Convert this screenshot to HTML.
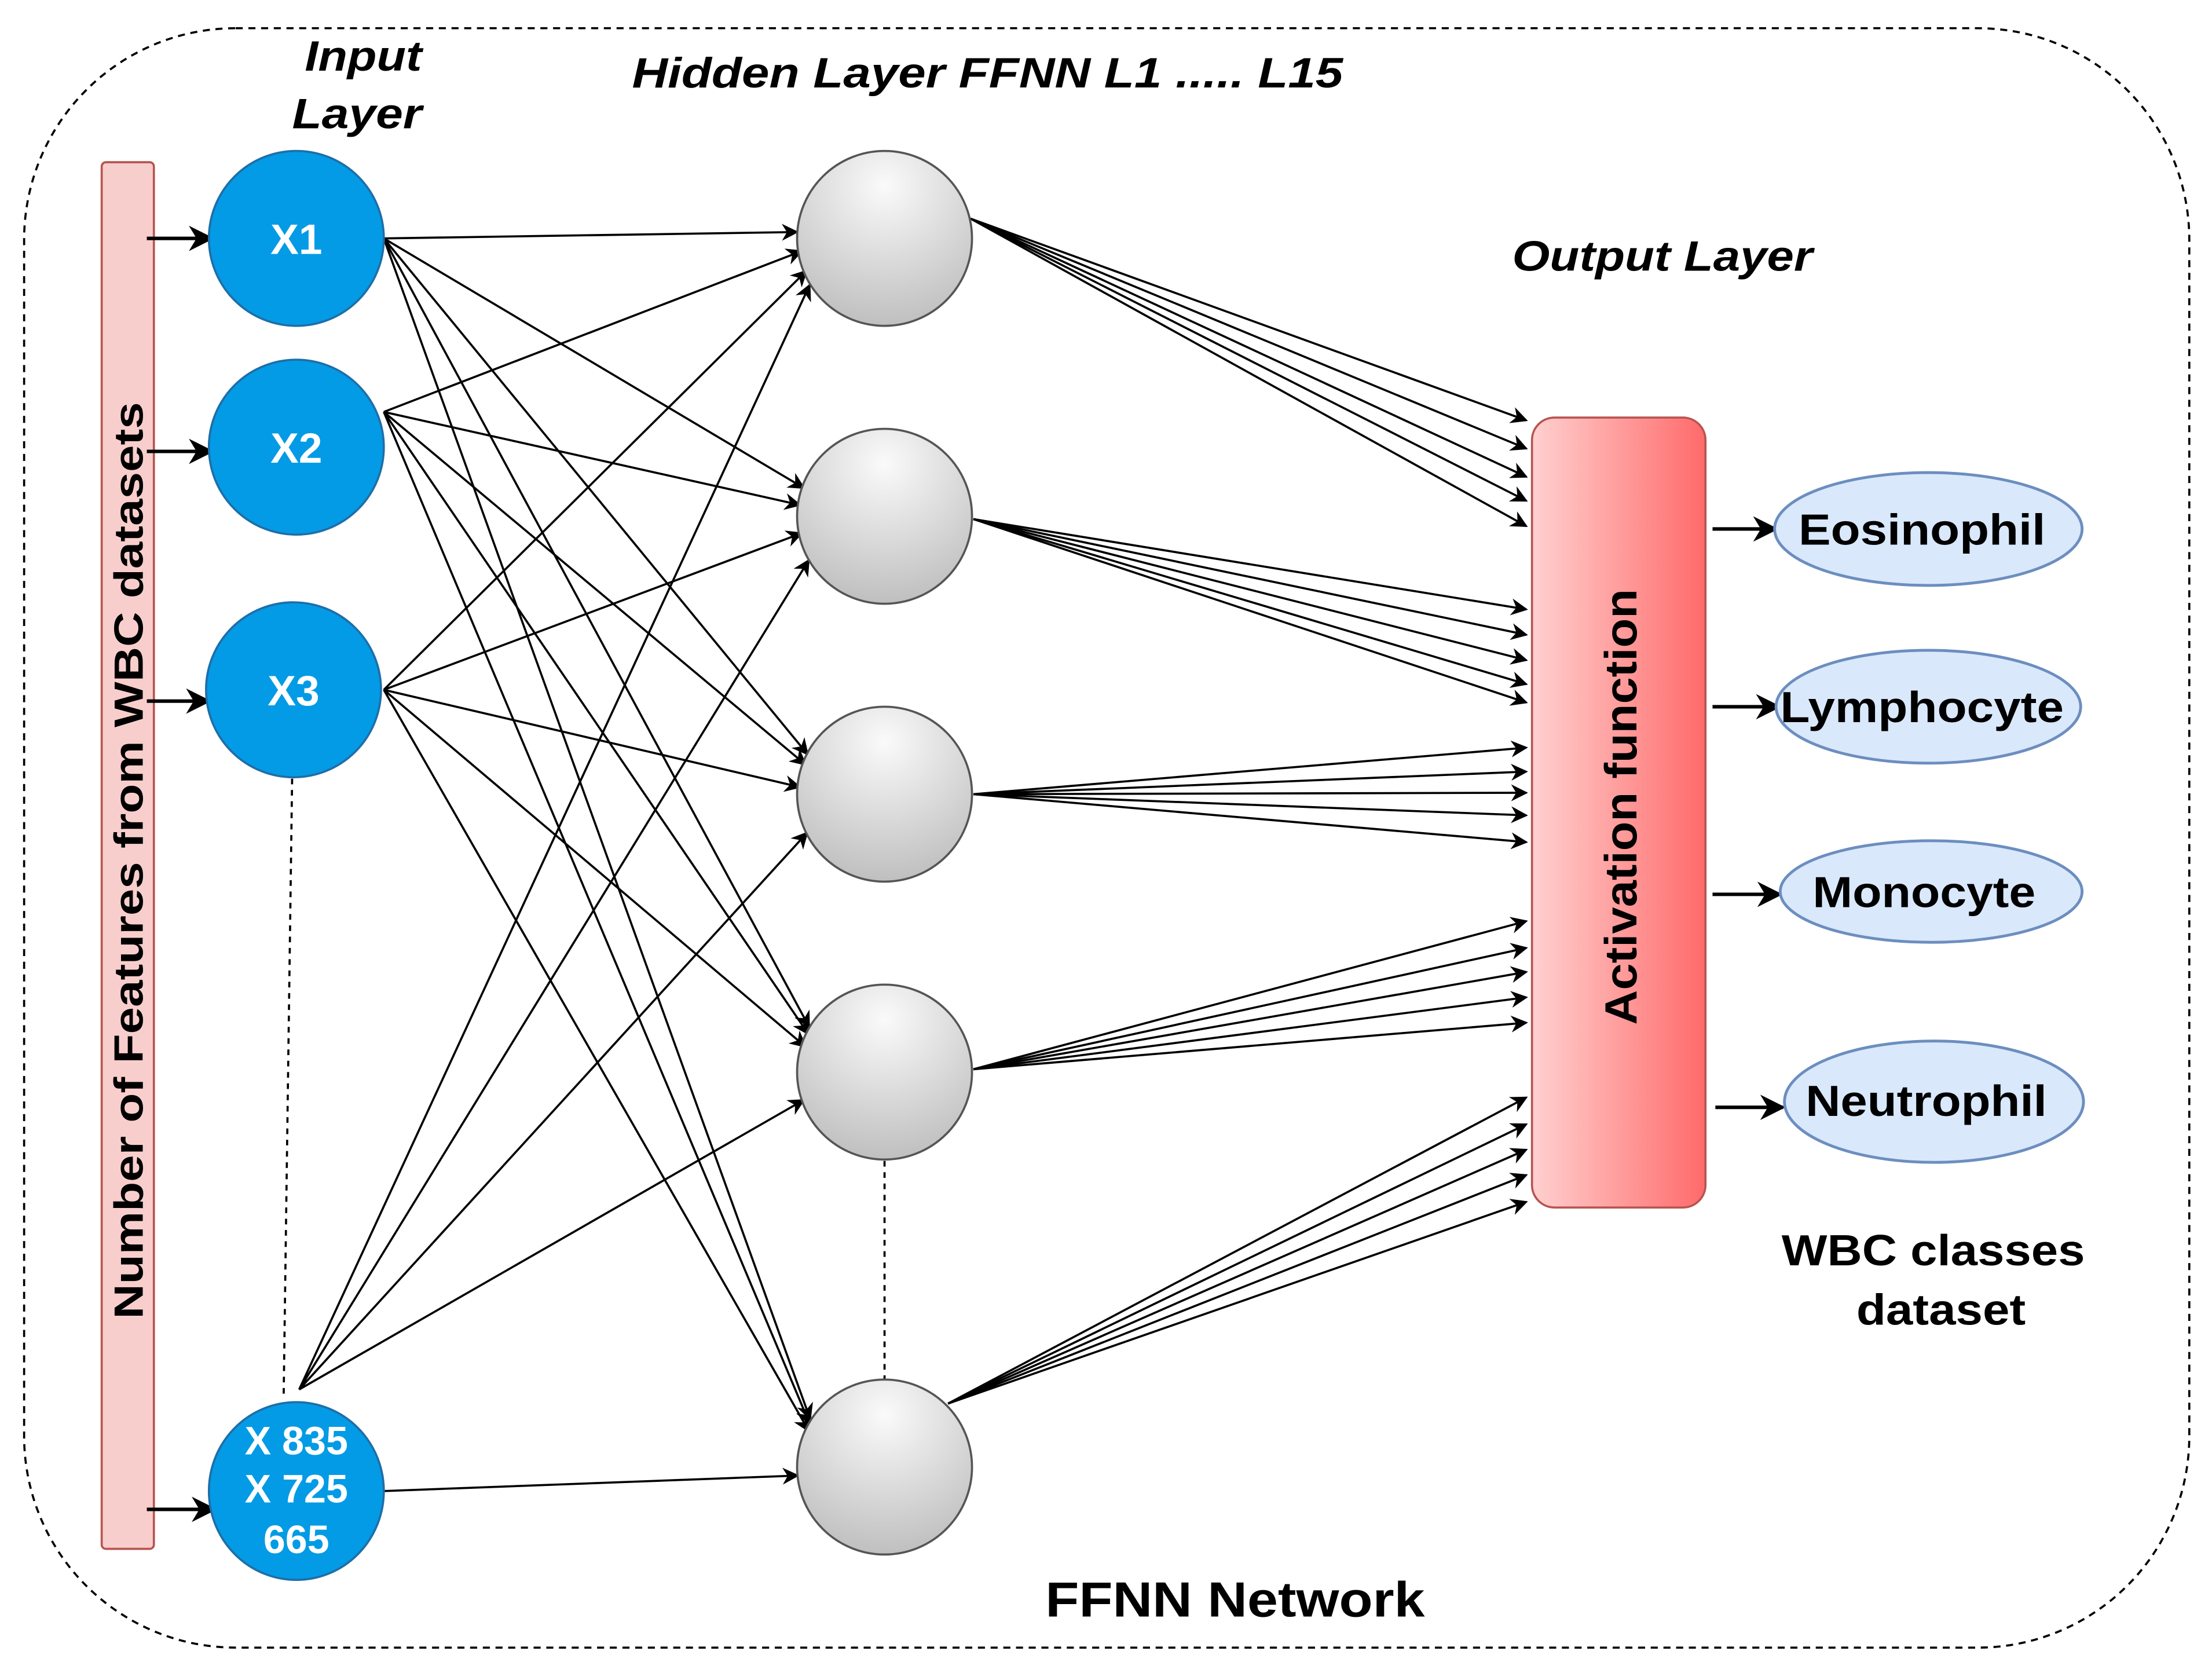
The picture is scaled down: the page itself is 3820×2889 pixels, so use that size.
<!DOCTYPE html>
<html><head><meta charset="utf-8"><style>
html,body{margin:0;padding:0;background:#fff;}
svg{display:block}
text{font-family:"Liberation Sans",sans-serif;font-weight:bold;}
</style></head><body>
<svg width="3820" height="2889" viewBox="0 0 1568 1186" xmlns="http://www.w3.org/2000/svg">
<defs>
<marker id="a" viewBox="0 0 10 10" refX="9" refY="5" markerWidth="12" markerHeight="12" markerUnits="userSpaceOnUse" orient="auto"><path d="M0,0 L10,5 L0,10 L3,5 z" fill="#000"/></marker>
<marker id="b" viewBox="0 0 10 10" refX="9" refY="5" markerWidth="18" markerHeight="18" markerUnits="userSpaceOnUse" orient="auto"><path d="M0,0 L10,5 L0,10 L3,5 z" fill="#000"/></marker>
<radialGradient id="g" cx="0.5" cy="0.2" r="0.9"><stop offset="0" stop-color="#fafafa"/><stop offset="1" stop-color="#b8b8b8"/></radialGradient>
<linearGradient id="r" x1="0" x2="1"><stop offset="0" stop-color="#ffd0d0"/><stop offset="1" stop-color="#ff6a6a"/></linearGradient>
</defs>
<rect x="17" y="20" width="1535" height="1148" rx="150" fill="none" stroke="#000" stroke-width="1.5" stroke-dasharray="5,4"/>
<rect x="72" y="115" width="37" height="983" rx="3" fill="#f8cecc" stroke="#b85450" stroke-width="1.5"/>
<text transform="translate(101,610) rotate(-90)" font-size="29" text-anchor="middle" textLength="650" lengthAdjust="spacingAndGlyphs">Number of Features from WBC datasets</text>
<text x="216" y="50" font-size="30" font-style="italic" textLength="83" lengthAdjust="spacingAndGlyphs">Input</text>
<text x="207" y="91" font-size="30" font-style="italic" textLength="92" lengthAdjust="spacingAndGlyphs">Layer</text>
<text x="448" y="62" font-size="30" font-style="italic" textLength="504" lengthAdjust="spacingAndGlyphs">Hidden Layer  FFNN L1 ..... L15</text>
<text x="1072" y="192" font-size="30" font-style="italic" textLength="213" lengthAdjust="spacingAndGlyphs">Output Layer</text>
<text x="741" y="1146" font-size="35" textLength="269" lengthAdjust="spacingAndGlyphs">FFNN Network</text>
<text x="1263" y="897" font-size="31" textLength="215" lengthAdjust="spacingAndGlyphs">WBC classes</text>
<text x="1316" y="939" font-size="31" textLength="120" lengthAdjust="spacingAndGlyphs">dataset</text>
<g stroke="#000" stroke-width="1.5" stroke-dasharray="4,4"><line x1="207" y1="552" x2="201" y2="990"/><line x1="627" y1="823" x2="627" y2="978"/></g>
<g stroke="#000" stroke-width="1.5" fill="none" marker-end="url(#a)" id="lines"></g>
<g stroke="#000" stroke-width="2.5" marker-end="url(#b)">
<line x1="104" y1="169" x2="150" y2="169"/><line x1="104" y1="320" x2="150" y2="320"/><line x1="104" y1="497" x2="148" y2="497"/><line x1="104" y1="1070" x2="152" y2="1070"/>
<line x1="1214" y1="375" x2="1259" y2="375"/><line x1="1214" y1="501" x2="1261" y2="501"/><line x1="1214" y1="634" x2="1262" y2="634"/><line x1="1216" y1="785" x2="1264" y2="785"/>
</g>
<g fill="#039be5" stroke="#1e6ea8" stroke-width="1.5">
<circle cx="210" cy="169" r="62"/><circle cx="210" cy="317" r="62"/><circle cx="208" cy="489" r="62"/><ellipse cx="210" cy="1057" rx="62" ry="63"/>
</g>
<g fill="#fff" font-size="30" text-anchor="middle">
<text x="210" y="180">X1</text><text x="210" y="328">X2</text><text x="208" y="500">X3</text>
<text x="210" y="1031" font-size="28">X 835</text><text x="210" y="1065" font-size="28">X 725</text><text x="210" y="1101" font-size="28">665</text>
</g>
<g fill="url(#g)" stroke="#555" stroke-width="1.5">
<circle cx="627" cy="169" r="62"/><circle cx="627" cy="366" r="62"/><circle cx="627" cy="563" r="62"/><circle cx="627" cy="760" r="62"/><circle cx="627" cy="1040" r="62"/>
</g>
<rect x="1086" y="296" width="123" height="560" rx="16" fill="url(#r)" stroke="#b85450" stroke-width="1.5"/>
<text transform="translate(1160,572) rotate(-90)" font-size="32" text-anchor="middle" textLength="309" lengthAdjust="spacingAndGlyphs">Activation function</text>
<g fill="#dae8fc" stroke="#6c8ebf" stroke-width="2">
<ellipse cx="1367" cy="375" rx="109" ry="40"/><ellipse cx="1367" cy="501" rx="108" ry="40"/><ellipse cx="1369" cy="632" rx="107" ry="36"/><ellipse cx="1371" cy="781" rx="106" ry="43"/>
</g>
<g font-size="31">
<text x="1275" y="386" textLength="175" lengthAdjust="spacingAndGlyphs">Eosinophil</text>
<text x="1262" y="512" textLength="201" lengthAdjust="spacingAndGlyphs">Lymphocyte</text>
<text x="1285" y="643" textLength="158" lengthAdjust="spacingAndGlyphs">Monocyte</text>
<text x="1280" y="791" textLength="171" lengthAdjust="spacingAndGlyphs">Neutrophil</text>
</g>
<script>
var ns="http://www.w3.org/2000/svg",g=document.getElementById("lines");
function L(x1,y1,x2,y2){var l=document.createElementNS(ns,"line");l.setAttribute("x1",x1);l.setAttribute("y1",y1);l.setAttribute("x2",x2);l.setAttribute("y2",y2);g.appendChild(l);}
var ins=[[272,169],[272,292],[272,489],[212,985]];
var hid=[169,366,563,760,1040];
ins.forEach(function(p,i){hid.forEach(function(hy,j){
 var sx=p[0],sy=p[1];
 if(i==3&&j==4){sx=272;sy=1057;}
 var dx=627-sx,dy=hy-sy,d=Math.sqrt(dx*dx+dy*dy);
 var s=-dy/d;
 var ty=hy+s*32+(i-1.5)*3;
 var tx=565+Math.abs(s)*10;
 L(sx,sy,tx,ty);
});});
var tg=[[298,318,338,355,373],[432,450,468,485,498],[530,547,562,578,597],[653,672,689,707,725],[778,797,815,833,852]];
var st=[[688,155],[690,368],[690,563],[690,758],[672,995]];
tg.forEach(function(a,i){a.forEach(function(y){L(st[i][0],st[i][1],1082,y);});});
</script>
</svg>
</body></html>
